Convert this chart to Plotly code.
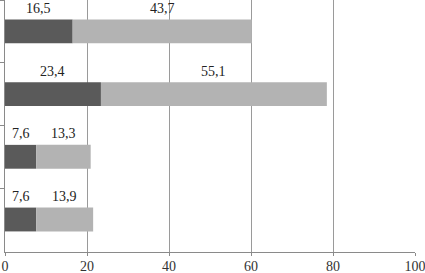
import plotly.graph_objects as go

categories = ["Группа 1", "Группа 2", "Группа 3", "Группа 4"]
series_dark = [16.5, 23.4, 7.6, 7.6]
series_light = [43.7, 55.1, 13.3, 13.9]
x_ticks = [0, 20, 40, 60, 80, 100]

def fmt(v):
    return f"{v:.1f}".replace(".", ",")

fig = go.Figure()
fig.add_trace(go.Bar(y=categories, x=series_dark, orientation="h",
                     marker=dict(color="#5a5a5a", line=dict(width=0))))
fig.add_trace(go.Bar(y=categories, x=series_light, orientation="h", base=series_dark,
                     marker=dict(color="#b3b3b3", line=dict(width=0))))

font_lbl = dict(family="Liberation Serif", size=14, color="#222222")
for c, d, l in zip(categories, series_dark, series_light):
    fig.add_annotation(x=d / 2, y=c, text=fmt(d), showarrow=False, yshift=23, font=font_lbl)
    fig.add_annotation(x=d + l / 2, y=c, text=fmt(l), showarrow=False, yshift=23, font=font_lbl)

fig.update_layout(
    width=425, height=273,
    margin=dict(l=5, r=10, t=0, b=21, autoexpand=False),
    plot_bgcolor="white", paper_bgcolor="white",
    showlegend=False, barmode="overlay", bargap=0.62,
)
fig.update_xaxes(range=[0, 100], tickvals=x_ticks, ticktext=[str(t) for t in x_ticks],
                 showgrid=True, gridcolor="#9a9a9a", gridwidth=1,
                 showline=True, linecolor="#8a8a8a", linewidth=1,
                 ticks="outside", ticklen=3, tickcolor="#8a8a8a",
                 zeroline=False, automargin=False, ticklabeloverflow="allow",
                 ticklabelstandoff=-2,
                 tickfont=dict(family="Liberation Serif", size=14, color="#333333"))
fig.update_yaxes(type="category", autorange="reversed", showticklabels=False,
                 showline=True, linecolor="#8a8a8a", linewidth=1,
                 ticks="outside", ticklen=5, tickcolor="#8a8a8a", tickson="boundaries",
                 showgrid=False, zeroline=False, automargin=False)

fig.write_html("out.html", config={"displayModeBar": False},
               post_script="document.body.style.margin='0';document.body.style.overflow='hidden';")
